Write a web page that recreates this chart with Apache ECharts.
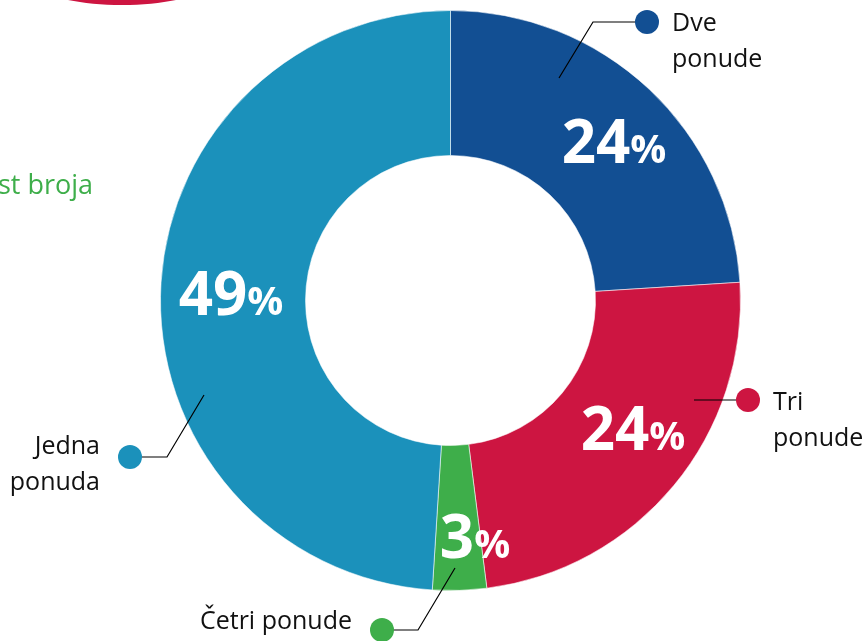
<!DOCTYPE html>
<html>
<head>
<meta charset="utf-8">
<title>Broj ponuda</title>
<script src="https://cdn.jsdelivr.net/npm/echarts@6/dist/echarts.min.js"></script>
<style>
  html, body { margin: 0; padding: 0; background: #fff; }
  #chart { width: 868px; height: 641px; }
</style>
</head>
<body>
<div id="chart"></div>
<script>
// slices, clockwise from 12 o'clock
const categories = ['Dve\nponude', 'Tri\nponude', 'Četri ponude', 'Jedna\nponuda']
const shares = [24, 24, 3, 49]
const colors = ['#124f93', '#cd1541', '#3eae4a', '#1b91bb']

// label placement (px), same order as categories
const pctPos = [[614, 141], [633, 428], [475, 536], [231, 293]]
const dotPos = [[647, 22], [748, 400], [382, 630], [130, 457]]
const leaderStart = [[559, 78], [694, 400], [455, 568], [204, 395]]
const leaderBend = [[593, 22], [720, 400], [418, 630], [167, 457]]
const namePos = [[672, 24, 'left'], [773, 403, 'left'], [352, 622, 'right'], [100, 447, 'right']]

const font = 'Open Sans'
const nameLineH = 36

const chart = echarts.init(document.getElementById('chart'))

const pieData = categories.map((name, i) => ({
  name,
  value: shares[i],
  itemStyle: { color: colors[i] }
}))
const ghostData = pieData.map((d) => ({ name: d.name, value: d.value, itemStyle: { color: 'transparent' } }))

const ringBase = {
  type: 'pie',
  center: [450.5, 300.5],
  radius: [145, 290],
  startAngle: 90,
  clockwise: true,
  avoidLabelOverlap: false,
  animation: false
}

chart.setOption({
  animation: false,
  textStyle: { fontFamily: font },
  graphic: [
    {
      type: 'ellipse',
      shape: { cx: 122, cy: -20, rx: 90, ry: 25 },
      style: { fill: '#cd1541' }
    },
    {
      type: 'text',
      left: -2,
      top: 173,
      style: { text: 'st broja', fill: '#3eae4a', font: '27px "Open Sans"' }
    }
  ],
  series: [
    {
      ...ringBase,
      name: 'ring',
      data: pieData,
      itemStyle: { borderColor: 'rgba(255,255,255,0.55)', borderWidth: 1 },
      emphasis: { disabled: true },
      label: {
        show: true,
        position: 'inside',
        formatter: (p) => '{n|' + p.value + '}{p|%}',
        rich: {
          n: { fontSize: 60, fontWeight: 'bold', color: '#fff', fontFamily: font, verticalAlign: 'bottom', lineHeight: 70 },
          p: { fontSize: 40, fontWeight: 'bold', color: '#fff', fontFamily: font, verticalAlign: 'bottom', lineHeight: 70, padding: [0, 0, 4, 0] }
        }
      },
      labelLine: { show: false },
      labelLayout: (p) => ({
        x: pctPos[p.dataIndex][0],
        y: pctPos[p.dataIndex][1],
        align: 'center',
        verticalAlign: 'middle'
      })
    },
    {
      // leader lines + coloured dots, drawn above the ring
      ...ringBase,
      name: 'dots',
      z: 5,
      silent: true,
      data: ghostData,
      label: {
        show: true,
        position: 'outside',
        formatter: (p) => '{d' + p.dataIndex + '|}',
        rich: Object.fromEntries(colors.map((c, i) => ['d' + i, { width: 24, height: 24, borderRadius: 12, backgroundColor: c }]))
      },
      labelLine: { show: true, lineStyle: { color: '#000', width: 1.2 } },
      labelLayout: (p) => {
        const i = p.dataIndex
        return {
          x: dotPos[i][0],
          y: dotPos[i][1],
          align: 'center',
          verticalAlign: 'middle',
          labelLinePoints: [leaderStart[i], leaderBend[i], dotPos[i]]
        }
      }
    },
    {
      ...ringBase,
      name: 'names',
      z: 5,
      silent: true,
      data: ghostData,
      label: {
        show: true,
        position: 'outside',
        formatter: '{b}',
        color: '#111',
        fontSize: 25,
        fontFamily: font,
        lineHeight: nameLineH
      },
      labelLine: { show: false },
      labelLayout: (p) => {
        const i = p.dataIndex
        return {
          x: namePos[i][0],
          y: namePos[i][1] - nameLineH / 2,
          align: namePos[i][2],
          verticalAlign: 'top'
        }
      }
    }
  ]
})
</script>
</body>
</html>
